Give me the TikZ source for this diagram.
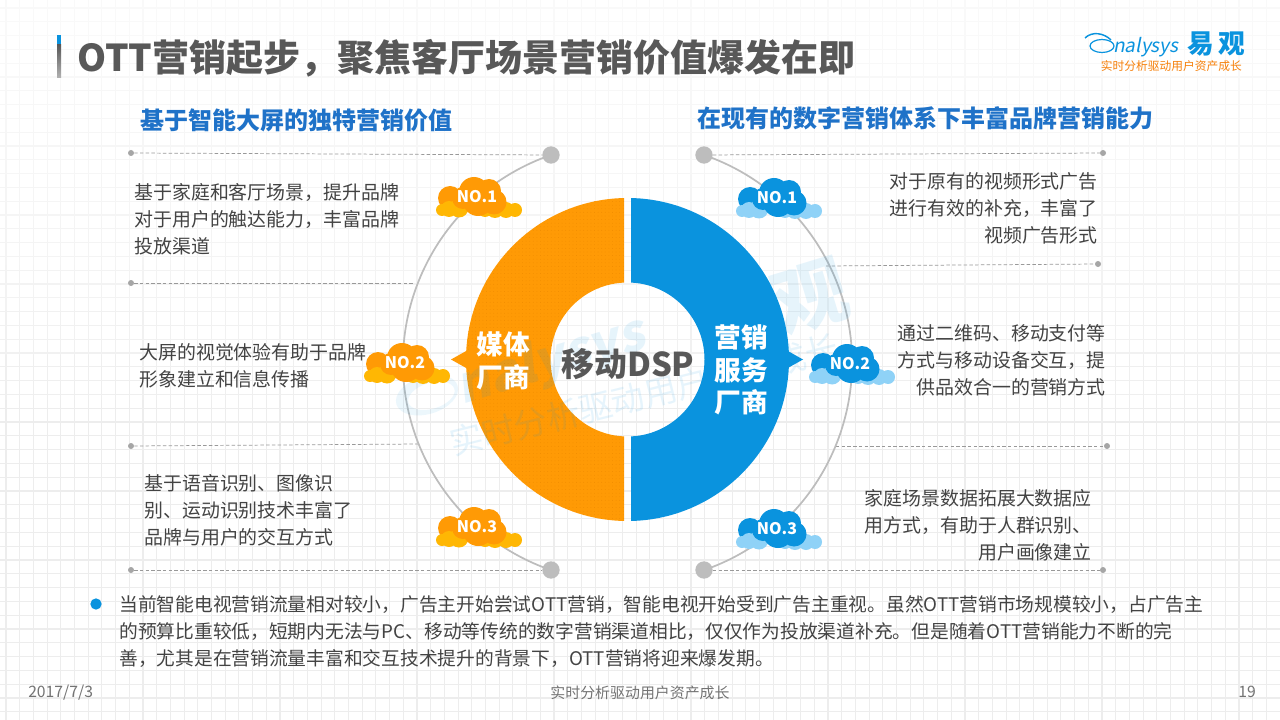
\documentclass[tikz,border=0pt]{standalone}
\usepackage{fontspec}
\setmainfont{Noto Sans CJK SC}
\newfontfamily\slantfont[FakeSlant=0.2]{Noto Sans CJK SC}
\usepackage{xcolor}
\usetikzlibrary{patterns.meta}
\definecolor{ringorange}{HTML}{FF9A05}
\definecolor{dotorange}{HTML}{EE8A00}
\definecolor{lobeorange}{HTML}{FFB703}
\definecolor{ringblue}{HTML}{0A93DE}
\definecolor{lobeblue}{HTML}{8FD2F7}
\definecolor{headblue}{HTML}{1F72C8}
\definecolor{titlegray}{HTML}{585858}
\definecolor{bodygray}{HTML}{434343}
\definecolor{arcgray}{HTML}{BDBDBD}
\newcommand\GridStep{13.7}
\newcommand{\fs}[2]{\fontsize{#1pt}{#2pt}\selectfont}
\tikzset{
  gridline/.style={
    line width=0.8pt,
    draw=black!7
  },
  bigdot/.style={
    shape = circle,
    inner sep = 0pt,
    minimum size = 13pt,
    fill = arcgray
  },
  smalldot/.style={
    shape = circle,
    inner sep = 0pt,
    minimum size = 4.5pt,
    fill = black!35
  },
  dashline/.style={
    line width=0.55pt,
    draw=black!40,
    dash pattern=on 2.6pt off 1.7pt
  },
  arcline/.style={
    line width=1.3pt,
    draw=arcgray
  },
  body/.style={
    font=\fs{14.2}{20.25},
    text=bodygray,
    inner sep=0pt
  },
  bodyL/.style={
    body,
    anchor=west,
    align=left
  },
  bodyR/.style={
    body,
    anchor=east,
    align=right
  },
  head/.style={
    font=\fs{18}{22}\bfseries,
    text=headblue,
    inner sep=0pt,
    anchor=west
  },
  ringlabel/.style={
    font=\fs{20}{24.4}\bfseries,
    text=white,
    inner sep=0pt,
    align=center
  },
  rank/.style={
    font=\fs{12}{14}\bfseries,
    text=white,
    inner sep=0pt
  },
  foot/.style={
    font=\fs{11.2}{13},
    text=black!55,
    inner sep=0pt
  },
  wmark/.style={
    text=ringblue,
    opacity=0.10,
    inner sep=0pt
  },
  pics/cloud/.style 2 args={
    code={
      \fill[#1] (-27,1) circle[radius=12];
      \foreach \a/\b/\r in {-35/13/6,-28/12/8,-18/11/9.5,8/13/7,18/12/9,29/13/8,38/13/7}
        \fill[#2] (\a,\b) circle[radius=\r];
      \foreach \a/\b/\r in {-14/1/11,-3/-5/15,12/-6/12,1/4/15,17/5/12.5}
        \fill[#1] (\a,\b) circle[radius=\r];
    }
  }
}

\begin{document}
\begin{tikzpicture}[x=0.75pt,y=-0.75pt]
  \useasboundingbox (0,0) rectangle (1280,720);

  % paper grid, fainter towards the top
  \foreach \i in {0,...,93}
    \draw[gridline] ({6+\i*\GridStep},0) -- ({6+\i*\GridStep},720);
  \foreach \i in {0,...,51}
    \draw[gridline] (0,{8+\i*13.8}) -- (1280,{8+\i*13.8});
  \foreach \i in {0,...,8}
    \fill[white,opacity=0.16] (0,0) rectangle (1280,{40+\i*45});

  % title bar
  \fill[ringblue] (57,35) rectangle (61,45);
  \shade[top color=black!65,bottom color=black!30] (57,45) rectangle (61,78);
  \node[font=\fs{27.75}{34}\bfseries,text=titlegray,inner sep=0pt,anchor=west] (title) at (77,58)
    {OTT营销起步，聚焦客厅场景营销价值爆发在即};

  % logo
  \draw[ringblue,line width=1.1pt] (1085,38) .. controls (1092,31) and (1104,33) .. (1111,40);
  \draw[ringblue,line width=0.9pt] (1102,46) ellipse[x radius=12,y radius=6.5];
  \node[font=\fs{14.3}{18}\slantfont,text=ringblue,inner sep=0pt,anchor=west] (lognalysys) at (1113,47) {nalysys};
  \node[font=\fs{20}{24}\bfseries,text=ringblue,inner sep=0pt,anchor=west] (logyiguan) at (1187,44) {易\,观};
  \node[font=\fs{8.8}{11},text=orange!85!brown,inner sep=0pt,anchor=east] (logslogan) at (1242,66) {实时分析驱动用户资产成长};

  % headings
  \node[head] (headL) at (140,120) {基于智能大屏的独特营销价值};
  \node[head] (headR) at (697,118) {在现有的数字营销体系下丰富品牌营销能力};

  % end points of the rules
  \node[bigdot] (bigTL) at (551,155) {};
  \node[bigdot] (bigBL) at (551,570) {};
  \node[bigdot] (bigTR) at (704,155) {};
  \node[bigdot] (bigBR) at (704,570) {};
  \node[smalldot] (dotTL) at (131,153) {};
  \node[smalldot] (dotML) at (131,283) {};
  \node[smalldot] (dotNL) at (131,446) {};
  \node[smalldot] (dotBL) at (131,570) {};
  \node[smalldot] (dotTR) at (1103,153) {};
  \node[smalldot] (dotMR) at (1098,264) {};
  \node[smalldot] (dotNR) at (1107,446) {};
  \node[smalldot] (dotBR) at (1103,570) {};
  \coordinate (endML) at (415,283);
  \coordinate (endNL) at (420,444);
  \coordinate (endMR) at (826,266);
  \coordinate (endNR) at (836,446);

  \draw[dashline] (dotTL) -- (bigTL);
  \draw[dashline] (dotML) -- (endML);
  \draw[dashline] (dotNL) -- (endNL);
  \draw[dashline] (dotBL) -- (bigBL);
  \draw[dashline] (bigTR) -- (dotTR);
  \draw[dashline] (endMR) -- (dotMR);
  \draw[dashline] (endNR) -- (dotNR);
  \draw[dashline] (bigBR) -- (dotBR);

  % big arcs
  \draw[arcline] (bigTL.center) arc[start angle=251,delta angle=-142,radius=219.5];
  \draw[arcline] (bigTR.center) arc[start angle=-71,delta angle=142,radius=219.5];

  % ring
  \begin{scope}
    \clip (0,0) rectangle (624,720);
    \fill[ringorange,even odd rule] (627.5,359.5) circle[radius=161.5] (627.5,359.5) circle[radius=77];
    \fill[pattern={Dots[distance=2.7pt,radius=0.3pt,xshift=0.4pt]},pattern color=dotorange,even odd rule]
      (627.5,359.5) circle[radius=161.5] (627.5,359.5) circle[radius=77];
  \end{scope}
  \begin{scope}
    \clip (631,0) rectangle (1280,720);
    \fill[ringblue,even odd rule] (627.5,359.5) circle[radius=161.5] (627.5,359.5) circle[radius=77];
  \end{scope}
  \fill[ringorange] (451,359.5) -- (476,345.5) -- (476,373.5) -- cycle;
  \fill[ringblue] (803,359.5) -- (778,345.5) -- (778,373.5) -- cycle;

  % watermark
  \fill[ringblue,opacity=0.08,even odd rule,rotate around={17:(427,395)}]
    (427,395) ellipse[x radius=32,y radius=19] (431,397) ellipse[x radius=24,y radius=13];
  \node[wmark,font=\fs{38}{44}\bfseries\slantfont,rotate=17] (markname) at (551,362) {nalysys};
  \node[wmark,font=\fs{56}{60}\bfseries,rotate=17] (markcn) at (775,308) {易观};
  \node[wmark,font=\fs{25}{30},rotate=14] (markslogan) at (644,395) {实时分析驱动用户资产成长};

  % clouds
  \pic at (477,197) {cloud={ringorange}{lobeorange}};
  \pic at (405,363) {cloud={ringorange}{lobeorange}};
  \pic at (477,527) {cloud={ringorange}{lobeorange}};
  \pic at (777,198) {cloud={ringblue}{lobeblue}};
  \pic at (850,364) {cloud={ringblue}{lobeblue}};
  \pic at (777,529) {cloud={ringblue}{lobeblue}};
  \node[rank] (noLa) at (477,197) {NO.1};
  \node[rank] (noLb) at (405,363) {NO.2};
  \node[rank] (noLc) at (477,527) {NO.3};
  \node[rank] (noRa) at (777,198) {NO.1};
  \node[rank] (noRb) at (850,364) {NO.2};
  \node[rank] (noRc) at (777,529) {NO.3};

  % ring labels
  \node[ringlabel] (media) at (503,361) {媒体\\厂商};
  \node[ringlabel] (service) at (741,370) {营销\\服务\\厂商};
  \node[font=\fs{24.6}{30}\bfseries,text=titlegray,inner sep=0pt] (dsp) at (628,364) {移动DSP};

  % side texts
  \node[bodyL] (textLa) at (134,219) {基于家庭和客厅场景，提升品牌\\对于用户的触达能力，丰富品牌\\投放渠道};
  \node[bodyL] (textLb) at (139,365.5) {大屏的视觉体验有助于品牌\\形象建立和信息传播};
  \node[bodyL] (textLc) at (144,510) {基于语音识别、图像识\\别、运动识别技术丰富了\\品牌与用户的交互方式};
  \node[bodyR] (textRa) at (1098,208) {对于原有的视频形式广告\\进行有效的补充，丰富了\\视频广告形式};
  \node[bodyR] (textRb) at (1106,360) {通过二维码、移动支付等\\方式与移动设备交互，提\\供品效合一的营销方式};
  \node[bodyR] (textRc) at (1092,525) {家庭场景数据拓展大数据应\\用方式，有助于人群识别、\\用户画像建立};

  % note
  \node[shape=circle,inner sep=0pt,minimum size=8.5pt,fill=ringblue] (bullet) at (96,604) {};
  \node[bodyL,font=\fs{14.06}{20.25}] (note) at (119,632) {当前智能电视营销流量相对较小，广告主开始尝试OTT营销，智能电视开始受到广告主重视。虽然OTT营销市场规模较小，占广告主\\的预算比重较低，短期内无法与PC、移动等传统的数字营销渠道相比，仅仅作为投放渠道补充。但是随着OTT营销能力不断的完\\善，尤其是在营销流量丰富和交互技术提升的背景下，OTT营销将迎来爆发期。};

  % footer
  \node[foot,anchor=west,font=\fs{11.8}{13}] (date) at (28,693) {2017/7/3};
  \node[foot] (slogan) at (640,693) {实时分析驱动用户资产成长};
  \node[foot,anchor=east,font=\fs{11.8}{13}] (page) at (1256,692) {19};
\end{tikzpicture}
\end{document}
